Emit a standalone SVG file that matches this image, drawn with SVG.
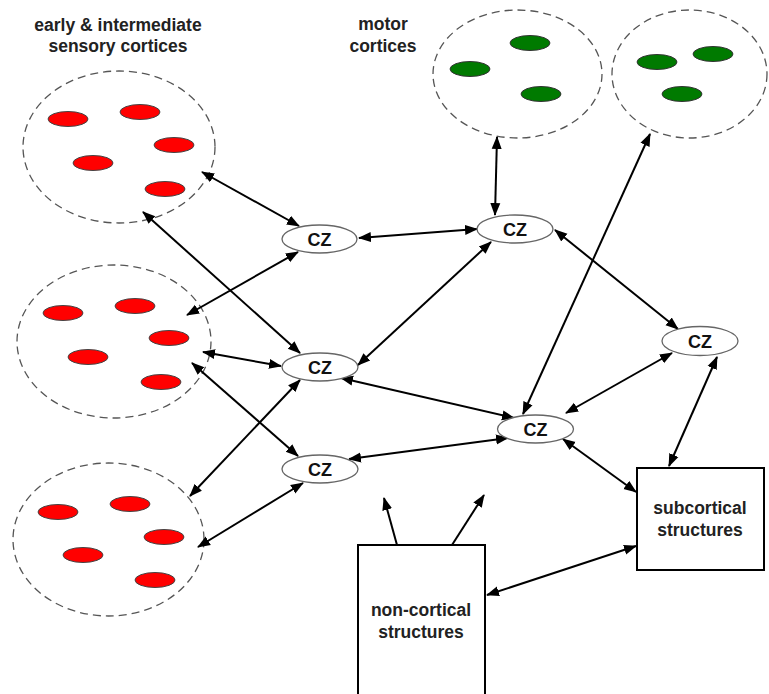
<svg xmlns="http://www.w3.org/2000/svg" width="769" height="694" viewBox="0 0 769 694">
<style>
.lbl{font-family:"Liberation Sans",Arial,sans-serif;font-weight:bold;font-size:17.5px;fill:#222;text-anchor:middle}
.cz{font-family:"Liberation Sans",Arial,sans-serif;font-weight:bold;font-size:18px;fill:#111;text-anchor:middle}
.grp{fill:none;stroke:#555;stroke-width:1.3;stroke-dasharray:8,5}
.red{fill:#ff0000;stroke:#444;stroke-width:1}
.grn{fill:#007a00;stroke:#333;stroke-width:1}
.node{fill:#fff;stroke:#666;stroke-width:1.3}
.box{fill:#fff;stroke:#000;stroke-width:2}
.c line{stroke:#000;stroke-width:2;marker-end:url(#ah)}
.c line.b{marker-start:url(#ah)}
</style>
<defs>
<marker id="ah" markerUnits="userSpaceOnUse" markerWidth="14" markerHeight="12" refX="12" refY="5" orient="auto-start-reverse" viewBox="0 0 14 10">
<path d="M0,0 L13,5 L0,10 z" fill="#000"/>
</marker>
</defs>
<rect width="769" height="694" fill="#fff"/>
<g id="labels">
<text class="lbl" x="118" y="31">early &amp; intermediate</text>
<text class="lbl" x="118" y="52">sensory cortices</text>
<text class="lbl" x="383" y="30">motor</text>
<text class="lbl" x="383" y="52">cortices</text>
</g>
<g id="sensory1">
<ellipse class="grp" cx="119" cy="147" rx="96" ry="76"/>
<ellipse class="red" cx="68" cy="119" rx="20" ry="7.5"/>
<ellipse class="red" cx="140" cy="112" rx="20" ry="7.5"/>
<ellipse class="red" cx="174" cy="145" rx="20" ry="7.5"/>
<ellipse class="red" cx="93" cy="163" rx="20" ry="7.5"/>
<ellipse class="red" cx="165" cy="189" rx="20" ry="7.5"/>
</g>
<g id="sensory2">
<ellipse class="grp" cx="114" cy="341.5" rx="97" ry="76.5"/>
<ellipse class="red" cx="63" cy="313" rx="20" ry="7.5"/>
<ellipse class="red" cx="135" cy="306" rx="20" ry="7.5"/>
<ellipse class="red" cx="169" cy="338" rx="20" ry="7.5"/>
<ellipse class="red" cx="88" cy="357" rx="20" ry="7.5"/>
<ellipse class="red" cx="161" cy="382" rx="20" ry="7.5"/>
</g>
<g id="sensory3">
<ellipse class="grp" cx="108.5" cy="539.5" rx="95.5" ry="76.5"/>
<ellipse class="red" cx="58" cy="512" rx="20" ry="7.5"/>
<ellipse class="red" cx="130" cy="504" rx="20" ry="7.5"/>
<ellipse class="red" cx="164" cy="537" rx="20" ry="7.5"/>
<ellipse class="red" cx="83" cy="555" rx="20" ry="7.5"/>
<ellipse class="red" cx="155" cy="580" rx="20" ry="7.5"/>
</g>
<g id="motor1">
<ellipse class="grp" cx="517.5" cy="74" rx="84.5" ry="64"/>
<ellipse class="grn" cx="470" cy="69" rx="20" ry="7.5"/>
<ellipse class="grn" cx="530" cy="43" rx="20" ry="7.5"/>
<ellipse class="grn" cx="541" cy="94" rx="20" ry="7.5"/>
</g>
<g id="motor2">
<ellipse class="grp" cx="689.5" cy="74" rx="77.5" ry="64"/>
<ellipse class="grn" cx="657" cy="62" rx="20" ry="7.5"/>
<ellipse class="grn" cx="713" cy="54" rx="20" ry="7.5"/>
<ellipse class="grn" cx="682" cy="94" rx="20" ry="7.5"/>
</g>
<g id="subcortical">
<rect class="box" x="637" y="468" width="127" height="102"/>
<text class="lbl" x="700" y="514">subcortical</text>
<text class="lbl" x="700" y="536">structures</text>
</g>
<g id="noncortical">
<rect class="box" x="358" y="545" width="127" height="160"/>
<text class="lbl" x="421" y="616">non-cortical</text>
<text class="lbl" x="421" y="638">structures</text>
</g>
<g class="c" id="connectors">
<line class="b" x1="202" y1="172" x2="299" y2="226"/>
<line class="b" x1="143" y1="212" x2="300" y2="353"/>
<line class="b" x1="298" y1="252" x2="187" y2="315"/>
<line class="b" x1="203" y1="352" x2="281" y2="366"/>
<line class="b" x1="192" y1="363" x2="298" y2="456"/>
<line class="b" x1="300" y1="380" x2="190" y2="496"/>
<line class="b" x1="303" y1="483" x2="198" y2="547"/>
<line class="b" x1="359" y1="238" x2="477" y2="229"/>
<line class="b" x1="491" y1="242" x2="358" y2="365"/>
<line class="b" x1="495" y1="215" x2="497" y2="137"/>
<line class="b" x1="555" y1="230" x2="678" y2="329"/>
<line class="b" x1="341" y1="378" x2="514" y2="418"/>
<line class="b" x1="349" y1="459" x2="508" y2="438"/>
<line class="b" x1="650" y1="134" x2="523" y2="414"/>
<line class="b" x1="566" y1="413" x2="672" y2="353"/>
<line class="b" x1="717" y1="357" x2="669" y2="466"/>
<line class="b" x1="563" y1="439" x2="636" y2="492"/>
<line class="b" x1="487" y1="595" x2="636" y2="546"/>
<line x1="397" y1="545" x2="384" y2="498"/>
<line x1="452" y1="545" x2="484" y2="495"/>
</g>
<g id="cz1"><ellipse class="node" cx="319.5" cy="239" rx="37.5" ry="14"/><text class="cz" x="319.5" y="245.5">CZ</text></g>
<g id="cz2"><ellipse class="node" cx="515" cy="229" rx="38" ry="14"/><text class="cz" x="515" y="235.5">CZ</text></g>
<g id="cz3"><ellipse class="node" cx="320" cy="367" rx="38" ry="14"/><text class="cz" x="320" y="373.5">CZ</text></g>
<g id="cz4"><ellipse class="node" cx="320" cy="469" rx="38" ry="14"/><text class="cz" x="320" y="475.5">CZ</text></g>
<g id="cz5"><ellipse class="node" cx="535.5" cy="429" rx="38" ry="14"/><text class="cz" x="535.5" y="435.5">CZ</text></g>
<g id="cz6"><ellipse class="node" cx="700" cy="341" rx="38" ry="14.5"/><text class="cz" x="700" y="347.5">CZ</text></g>
</svg>
